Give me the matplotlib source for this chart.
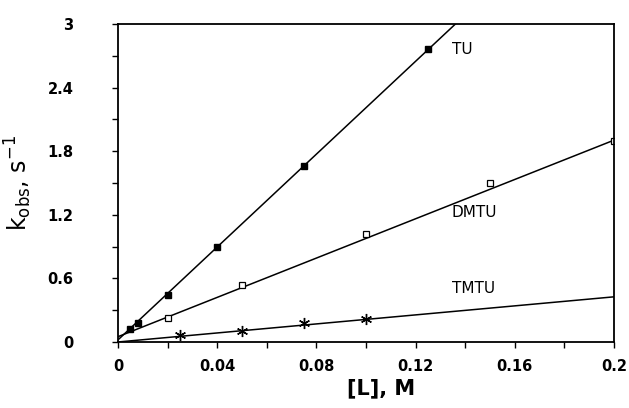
import numpy as np
import matplotlib.pyplot as plt
from matplotlib.ticker import MultipleLocator

# data
tu_x = [0.005, 0.008, 0.02, 0.04, 0.075, 0.125]
tu_y = [0.12, 0.18, 0.44, 0.90, 1.66, 2.76]
dmtu_x = [0.02, 0.05, 0.10, 0.15, 0.20]
dmtu_y = [0.23, 0.54, 1.02, 1.50, 1.90]
tmtu_x = [0.025, 0.05, 0.075, 0.10]
tmtu_y = [0.066, 0.107, 0.176, 0.217]

# fitted lines (slope, intercept)
tu_fit = (21.9, 0.02)
dmtu_fit = (9.27, 0.05)
tmtu_fit = (2.13, 0.0)

x_ticks = [0, 0.04, 0.08, 0.12, 0.16, 0.2]
x_ticklabels = ['0', '0.04', '0.08', '0.12', '0.16', '0.2']
y_ticks = [0, 0.6, 1.2, 1.8, 2.4, 3]
y_ticklabels = ['0', '0.6', '1.2', '1.8', '2.4', '3']

tick_font = dict(family='DejaVu Sans', weight='bold', size=10.5)

fig = plt.figure(figsize=(6.29, 4.08), dpi=100)
ax = fig.add_axes([0.1876, 0.1618, 0.7885, 0.7794])

xl = np.linspace(0, 0.2, 50)
for (m, b) in [tu_fit, dmtu_fit, tmtu_fit]:
    ax.plot(xl, m * xl + b, color='black', lw=1.1)

ax.plot(tu_x, tu_y, 's', color='black', ms=4.5, mfc='black')
ax.plot(dmtu_x, dmtu_y, 's', color='black', ms=4.5, mfc='white', mew=0.9)
ax.plot(tmtu_x, tmtu_y, linestyle='none', marker=(6, 2, 0), color='black', ms=8, mew=1.0)

ax.text(0.1345, 2.72, 'TU', fontsize=11, family='DejaVu Sans')
ax.text(0.1345, 1.18, 'DMTU', fontsize=11, family='DejaVu Sans')
ax.text(0.1345, 0.46, 'TMTU', fontsize=11, family='DejaVu Sans')

ax.set_xlim(0, 0.2)
ax.set_ylim(0, 3)
ax.set_xticks(x_ticks)
ax.set_xticklabels(x_ticklabels, **tick_font)
ax.set_yticks(y_ticks)
ax.set_yticklabels(y_ticklabels, **tick_font)
ax.xaxis.set_minor_locator(MultipleLocator(0.02))
ax.yaxis.set_minor_locator(MultipleLocator(0.3))
ax.tick_params(axis='both', which='both', direction='out', length=4, width=1)
ax.tick_params(axis='x', which='both', pad=8)
ax.tick_params(axis='y', which='both', pad=28)
for s in ax.spines.values():
    s.set_linewidth(1.3)

ax.set_xlabel('[L], M', fontsize=15, fontweight='bold', family='DejaVu Sans', labelpad=6)
ax.xaxis.set_label_coords(0.53, -0.115)
ax.set_ylabel(r'k$_{\mathregular{obs}}$, s$^{-1}$', fontsize=17, family='DejaVu Sans', labelpad=10)

fig.savefig('out.png', dpi=100)
